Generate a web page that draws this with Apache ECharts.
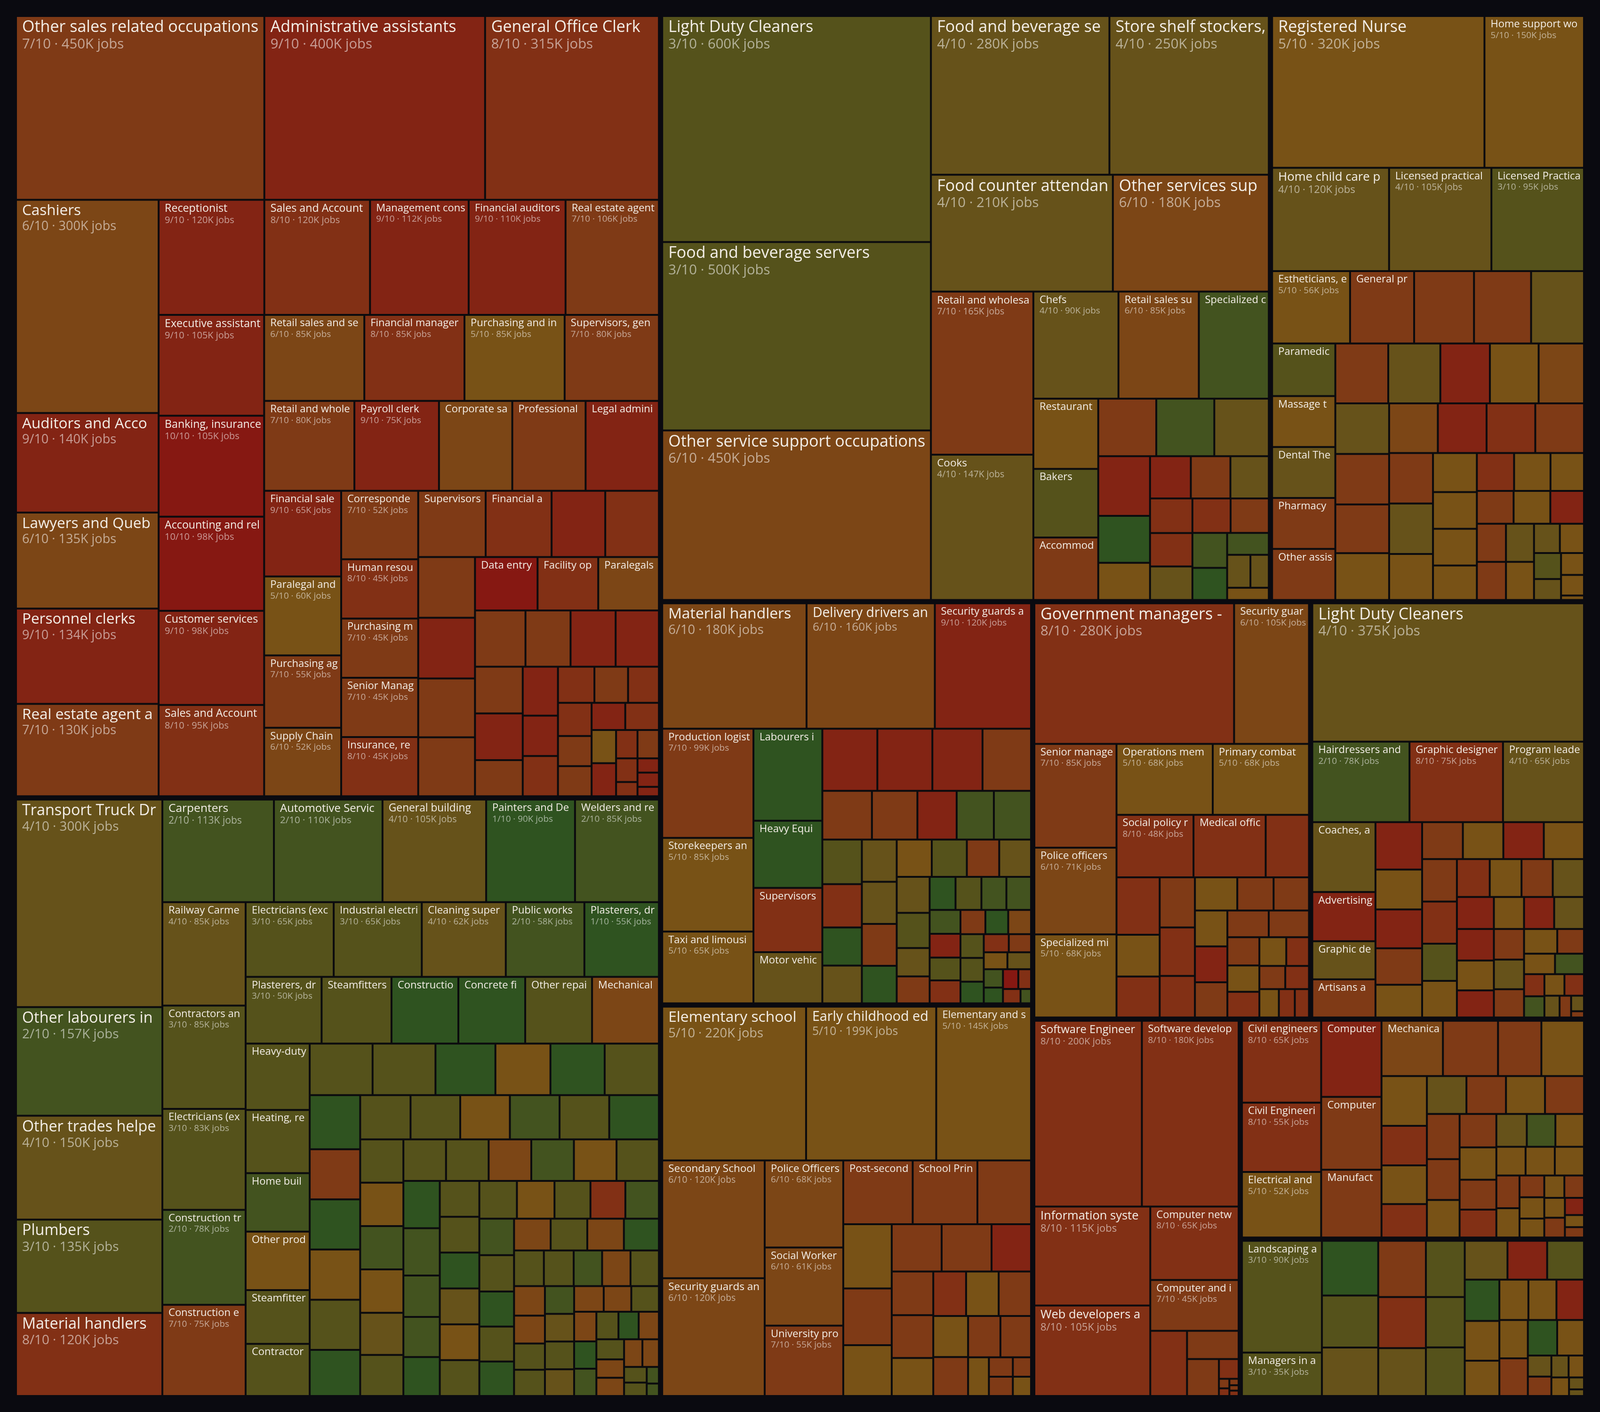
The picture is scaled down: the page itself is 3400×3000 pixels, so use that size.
<!DOCTYPE html>
<html>
<head>
<meta charset="utf-8">
<title>Occupations treemap</title>
<script src="https://cdn.jsdelivr.net/npm/echarts@6/dist/echarts.min.js"></script>
<style>
  html, body { margin: 0; padding: 0; background: #0a0a10; }
  #chart { width: 3400px; height: 3000px; }
</style>
</head>
<body>
<div id="chart"></div>
<script>
// colour per score 1..10 (green -> red)
var scoreColors = ['#2f5320', '#43531f', '#55521b', '#66521a', '#785216',
                   '#7c4616', '#7f3a16', '#823015', '#832414', '#861812'];

// [name, score out of 10, jobs in K] ; '' = cell without a label
// (equal values are listed in reverse of their on-screen order: ECharts puts the later one first)
var business = [
  ['Other sales related occupations', 7, 450], ['Administrative assistants', 9, 400],
  ['General Office Clerk', 8, 315], ['Cashiers', 6, 300],
  ['Auditors and Accountants', 9, 140], ['Lawyers and Quebec notaries', 6, 135],
  ['Personnel clerks', 9, 134], ['Real estate agent and salespersons', 7, 130],
  ['Sales and Account Representatives', 8, 120], ['Receptionist', 9, 120],
  ['Management consultants', 9, 112], ['Financial auditors and accountants', 9, 110],
  ['Real estate agents', 7, 106],
  ['Banking, insurance and other financial clerks', 10, 105], ['Executive assistants', 9, 105],
  ['Customer services representatives', 9, 98], ['Accounting and related clerks', 10, 98],
  ['Sales and Account Managers', 8, 95],
  ['Purchasing and inventory control workers', 5, 85], ['Financial managers', 8, 85],
  ['Retail sales and service supervisors', 6, 85],
  ['Retail and wholesale buyers', 7, 80], ['Supervisors, general office and administrative', 7, 80],
  ['Payroll clerk', 9, 75],
  ['Financial sales representatives', 9, 65], ['Legal administrative assistants', 9, 65],
  ['Professional occupations in advertising', 7, 65], ['Corporate sales managers', 6, 65],
  ['Paralegal and related occupations', 5, 60], ['Purchasing agents and officers', 7, 55],
  ['Correspondence, publication and regulatory clerks', 7, 52], ['Supply Chain logistics', 6, 52],
  ['Insurance, real estate and brokerage managers', 8, 45], ['Senior Managers - financial', 7, 45],
  ['Purchasing managers', 7, 45], ['Human resources professionals', 8, 45],
  ['Supervisors', 7, 44], ['Financial and investment analysts', 8, 43],
  ['', 8, 35], ['', 9, 35], ['', 9, 34], ['', 7, 34], ['Data entry clerks', 10, 33],
  ['', 7, 33], ['', 7, 33], ['Paralegals', 6, 32], ['Facility operation managers', 8, 32],
  ['', 7, 28], ['', 9, 25], ['', 7, 25], ['', 9, 24], ['', 9, 22], ['', 7, 22],
  ['', 9, 17], ['', 7, 17], ['', 8, 14], ['', 9, 14], ['', 8, 13], ['', 7, 12],
  ['', 8, 11], ['', 8, 11], ['', 7, 10], ['', 7, 10], ['', 8, 9], ['', 9, 9],
  ['', 9, 8], ['', 5, 8], ['', 7, 6], ['', 8, 6], ['', 8, 5], ['', 9, 3], ['', 9, 3],
  ['', 8, 3], ['', 9, 2]
];

var service = [
  ['Light Duty Cleaners', 3, 600], ['Food and beverage servers', 3, 500],
  ['Other service support occupations', 6, 450], ['Food and beverage service supervisors', 4, 280],
  ['Store shelf stockers, clerks and order fillers', 4, 250], ['Food counter attendants and kitchen helpers', 4, 210],
  ['Other services supervisors', 6, 180], ['Retail and wholesale trade managers', 7, 165],
  ['Cooks', 4, 147], ['Chefs', 4, 90], ['Retail sales supervisors', 6, 85],
  ['Specialized cleaners', 2, 74], ['Restaurant and food service managers', 5, 45],
  ['Bakers', 3, 44], ['Accommodation service managers', 7, 40],
  ['', 2, 33], ['', 7, 33], ['', 4, 31], ['', 9, 30.5], ['', 1, 24], ['', 5, 19],
  ['', 9, 17], ['', 7, 16.5], ['', 4, 16], ['', 8, 14.5], ['', 4, 14], ['', 8, 14],
  ['', 7, 13], ['', 8, 13], ['', 2, 12], ['', 1, 11], ['', 2, 9], ['', 4, 7.6],
  ['', 4, 6], ['', 5, 5]
];

var health = [
  ['Registered Nurse', 5, 320], ['Home support workers', 5, 150],
  ['Home child care providers', 4, 120], ['Licensed practical nurses', 4, 105],
  ['Licensed Practical Nurse assistants', 3, 95], ['Estheticians, electrologists and related', 5, 56],
  ['General practitioners and family physicians', 7, 46],
  ['', 7, 43], ['', 7, 41], ['', 4, 38],
  ['Paramedical occupations', 3, 33],
  ['Other assisting occupations in health', 7, 32], ['Pharmacy technical assistants', 7, 32],
  ['Dental Therapists', 4, 32], ['Massage therapists', 5, 32],
  ['', 4, 31], ['', 7, 31.5], ['', 9, 29.5], ['', 5, 29], ['', 7, 27], ['', 4, 27], ['', 6, 27],
  ['', 7, 26], ['', 5, 25], ['', 7, 24], ['', 8, 24], ['', 9, 24], ['', 6, 24],
  ['', 4, 22], ['', 7, 22], ['', 5, 20], ['', 5, 17], ['', 5, 16], ['', 5, 16], ['', 5, 15],
  ['', 8, 14], ['', 5, 13.7], ['', 5, 12.6], ['', 5, 12], ['', 7, 12], ['', 7, 11],
  ['', 7, 11], ['', 9, 11], ['', 5, 10.6], ['', 4, 10.6], ['', 4, 7.5], ['', 3, 7],
  ['', 5, 7], ['', 4, 5.6], ['', 5, 5], ['', 5, 4.7], ['', 5, 1]
];

var trades = [
  ['Transport Truck Drivers', 4, 300], ['Other labourers in processing and manufacturing', 2, 157],
  ['Other trades helpers and labourers', 4, 150], ['Plumbers', 3, 135],
  ['Material handlers', 8, 120], ['Carpenters', 2, 113],
  ['Automotive Service Technicians', 2, 110], ['General building maintenance workers', 4, 105],
  ['Painters and Decorators', 1, 90],
  ['Contractors and supervisors, electrical trades', 3, 85], ['Railway Carmen/women', 4, 85],
  ['Welders and related machine operators', 2, 85],
  ['Electricians (except industrial and power system)', 3, 83], ['Construction trades helpers', 2, 78],
  ['Construction estimators', 7, 75],
  ['Industrial electricians', 3, 65], ['Electricians (except industrial)', 3, 65],
  ['Cleaning supervisors', 4, 62],
  ['Public works and maintenance labourers', 2, 58], ['Plasterers, drywall installers and finishers', 1, 55],
  ['Plasterers, drywall installers and lathers', 3, 50], ['Steamfitters, pipefitters', 3, 46],
  ['Mechanical engineering technicians', 6, 44], ['Other repairers and servicers', 3, 44],
  ['Concrete finishers', 1, 44], ['Construction millwrights', 1, 44],
  ['Heavy-duty equipment mechanics', 3, 42], ['Heating, refrigeration and air conditioning mechanics', 3, 40],
  ['Other products assemblers', 5, 37], ['Home building and renovation managers', 2, 37],
  ['Steamfitters and sprinkler installers', 3, 34], ['Contractors and supervisors, mechanic trades', 3, 33],
  ['', 3, 32], ['', 3, 32], ['', 1, 30.5], ['', 5, 28], ['', 3, 27.6], ['', 1, 27.6], ['', 1, 27],
  ['', 3, 25], ['', 5, 25], ['', 1, 25], ['', 7, 25], ['', 1, 23], ['', 3, 22],
  ['', 1, 21.7], ['', 3, 21.7], ['', 2, 21.7], ['', 5, 21.7], ['', 3, 21.7], ['', 4, 18],
  ['', 5, 18.5], ['', 2, 18.5], ['', 5, 18.5], ['', 3, 18.5], ['', 3, 17.4], ['', 2, 17],
  ['', 5, 17.5], ['', 2, 17.5], ['', 6, 17.5], ['', 3, 17.5], ['', 3, 17.5], ['', 3, 17.5],
  ['', 1, 17], ['', 5, 14], ['', 3, 14], ['', 3, 14], ['', 5, 14], ['', 4, 14], ['', 1, 14],
  ['', 3, 14], ['', 3, 12.5], ['', 3, 12], ['', 1, 12], ['', 1, 11], ['', 3, 10.5], ['', 3, 10.5],
  ['', 2, 14.9], ['', 2, 14.4], ['', 3, 14], ['', 1, 14],
  ['', 3, 13.4], ['', 8, 13], ['', 2, 12.5], ['', 2, 12.5],
  ['', 6, 11.5], ['', 1, 11.8], ['', 3, 11.5], ['', 6, 11.5],
  ['', 3, 10], ['', 3, 8], ['', 4, 8], ['', 6, 8.5], ['', 2, 8],
  ['', 6, 9], ['', 3, 8], ['', 4, 7.7], ['', 3, 7], ['', 6, 6.5],
  ['', 6, 10], ['', 3, 6], ['', 6, 7.5], ['', 2, 6], ['', 3, 5.5], ['', 6, 5.5],
  ['', 2, 10], ['', 1, 6], ['', 6, 7], ['', 1, 5.5], ['', 6, 5], ['', 6, 5],
  ['', 3, 8], ['', 6, 4.5], ['', 6, 5], ['', 3, 3], ['', 3, 3.5], ['', 2, 2], ['', 2, 1.5]
];

var manufacturing = [
  ['Material handlers', 6, 180], ['Delivery drivers and courier service drivers', 6, 160],
  ['Security guards and related security service occupations', 9, 120], ['Production logistics workers', 7, 99],
  ['Storekeepers and partspersons', 5, 85], ['Taxi and limousine drivers and chauffeurs', 5, 65],
  ['Labourers in food and beverage processing', 1, 63], ['Heavy Equipment operators', 1, 46],
  ['Supervisors', 8, 44], ['Motor vehicle assemblers', 4, 35],
  ['', 9, 34], ['', 9, 34], ['', 9, 31], ['', 7, 30], ['', 7, 24], ['', 7, 22], ['', 9, 19],
  ['', 3, 17.5], ['', 8, 17], ['', 2, 18], ['', 2, 18], ['', 1, 15], ['', 7, 14.5],
  ['', 4, 14.8], ['', 4, 14.6], ['', 4, 14.6], ['', 3, 13], ['', 5, 13], ['', 1, 13],
  ['', 3, 11.5], ['', 4, 11.8], ['', 7, 12], ['', 4, 11.8], ['', 4, 9.3], ['', 7, 8.8],
  ['', 3, 8.5], ['', 2, 8.1], ['', 2, 8.2], ['', 1, 8.5], ['', 9, 7.3], ['', 8, 7],
  ['', 3, 7], ['', 2, 7.3], ['', 7, 6], ['', 3, 5.5], ['', 3, 5.5], ['', 6, 5.5], ['', 1, 5.5],
  ['', 1, 5], ['', 8, 4.5], ['', 4, 4], ['', 5, 4], ['', 7, 4], ['', 2, 3.5], ['', 10, 3],
  ['', 1, 3], ['', 8, 2.5], ['', 8, 2.5], ['', 2, 1.5]
];

var government = [
  ['Government managers - economic analysis, policy development', 8, 280],
  ['Security guards and related occupations', 6, 105], ['Senior managers - public administration', 7, 85],
  ['Police officers (except commissioned)', 6, 71],
  ['Primary combat members of the Canadian Forces', 5, 68], ['Operations members of the Canadian Forces', 5, 68],
  ['Specialized middle management occupations', 5, 68],
  ['Social policy researchers and consultants', 8, 48], ['Medical officers', 8, 45],
  ['', 8, 27], ['', 8, 24.7], ['', 5, 18], ['', 8, 17], ['', 7, 17.6], ['', 8, 17.6],
  ['', 8, 14.6], ['', 5, 14], ['', 7, 12], ['', 7, 11], ['', 9, 11.6], ['', 7, 11.7],
  ['', 7, 10.7], ['', 7, 11.4], ['', 5, 11.6], ['', 7, 9], ['', 5, 8.4], ['', 8, 8.2],
  ['', 5, 7.7], ['', 8, 6.5], ['', 7, 6], ['', 5, 5.5], ['', 8, 5.5], ['', 8, 4], ['', 8, 4.5]
];

var personal = [
  ['Light Duty Cleaners', 4, 375], ['Hairdressers and barbers', 2, 78],
  ['Graphic designers and illustrators', 8, 75], ['Program leaders and instructors in recreation', 4, 65],
  ['Coaches, athletes and officials', 4, 44], ['Advertising, marketing and public relations', 9, 31],
  ['Artisans and craftspersons', 7, 24], ['Graphic designers', 4, 24],
  ['', 9, 22], ['', 5, 18.6], ['', 9, 18], ['', 7, 17], ['', 7, 15], ['', 5, 15.2],
  ['', 9, 14.9], ['', 5, 14.9], ['', 7, 14.7], ['', 5, 14.8], ['', 8, 14.6], ['', 5, 12.7],
  ['', 3, 12.9], ['', 8, 12.4], ['', 9, 11.8], ['', 4, 11.8], ['', 9, 11.6], ['', 5, 12],
  ['', 9, 9.6], ['', 5, 9.6], ['', 7, 8.5], ['', 5, 11], ['', 4, 9.5], ['', 7, 9.2],
  ['', 4, 8.9], ['', 7, 11.8], ['', 9, 10], ['', 5, 8.2], ['', 7, 6.6], ['', 5, 6.3],
  ['', 2, 5.9], ['', 5, 4.3], ['', 8, 4.5], ['', 8, 4.2], ['', 2, 4.3], ['', 4, 3.3],
  ['', 7, 2.5], ['', 4, 2], ['', 7, 0.8]
];

var education = [
  ['Elementary school and kindergarten teachers', 5, 220], ['Early childhood educators and assistants', 5, 199],
  ['Elementary and secondary school teacher assistants', 5, 145],
  ['Security guards and related occupations', 6, 120], ['Secondary School teachers', 6, 120],
  ['Police Officers', 6, 68],
  ['Social Workers', 6, 61], ['University professors and lecturers', 7, 55],
  ['Post-secondary teaching and research assistants', 7, 44], ['School Principals and administrators', 7, 41],
  ['', 7, 34], ['', 5, 31], ['', 7, 27.3], ['', 7, 23.5], ['', 5, 24.5], ['', 7, 23.5],
  ['', 9, 18.6], ['', 7, 18], ['', 5, 14.4], ['', 5, 14.2], ['', 7, 14.3], ['', 7, 17.7],
  ['', 5, 15.7], ['', 7, 13.5], ['', 7, 13.3], ['', 8, 14.5], ['', 7, 12.6], ['', 5, 8],
  ['', 7, 4.6], ['', 7, 4.6], ['', 5, 3.5], ['', 7, 3.5]
];

var software = [
  ['Software Engineers and designers', 8, 200], ['Software developers and programmers', 8, 180],
  ['Information systems specialists', 8, 115], ['Web developers and programmers', 8, 105],
  ['Computer network technicians', 8, 65], ['Computer and information systems managers', 7, 45],
  ['', 8, 24], ['', 7, 14.6], ['', 7, 11.8], ['', 8, 3.9], ['', 7, 1], ['', 8, 0.8],
  ['', 7, 0.6], ['', 8, 0.5], ['', 7, 0.5]
];

var engineering = [
  ['Civil engineers', 8, 65], ['Civil Engineering technologists and technicians', 8, 55],
  ['Electrical and electronics engineers', 5, 52], ['Computer engineers (except software)', 9, 46],
  ['Computer and network operators', 7, 44], ['Manufacturing managers', 7, 41],
  ['Mechanical engineers', 6, 34],
  ['', 7, 30.5], ['', 7, 24], ['', 5, 23.6], ['', 5, 22.6], ['', 8, 18], ['', 5, 17.6],
  ['', 8, 15.2], ['', 7, 15], ['', 7, 14.8], ['', 7, 14.8], ['', 5, 14.8], ['', 4, 15],
  ['', 7, 13.4], ['', 7, 12.3], ['', 5, 12.3], ['', 8, 10.3], ['', 5, 9.4], ['', 2, 9.4],
  ['', 5, 11.9], ['', 7, 11], ['', 4, 10], ['', 5, 8.4], ['', 5, 8.4], ['', 5, 8.4],
  ['', 7, 7.6], ['', 5, 6.8], ['', 7, 5.4], ['', 5, 5.3], ['', 5, 4.7], ['', 5, 4.5],
  ['', 7, 4.4], ['', 7, 4.1], ['', 5, 4.1], ['', 9, 3.3], ['', 5, 2.3], ['', 7, 2]
];

var landscaping = [
  ['Landscaping and grounds maintenance labourers', 3, 90], ['Managers in agriculture', 3, 35],
  ['', 1, 31], ['', 3, 29.5], ['', 4, 27.5], ['', 7, 27], ['', 8, 24.5], ['', 4, 23],
  ['', 3, 22], ['', 3, 19.7], ['', 3, 19], ['', 4, 16.7], ['', 9, 15.5], ['', 1, 14.4],
  ['', 3, 14.4], ['', 5, 13.9], ['', 5, 12.3], ['', 5, 11.8], ['', 7, 10.8], ['', 1, 10.5],
  ['', 9, 11.2], ['', 5, 9.6], ['', 5, 11.4], ['', 5, 11], ['', 4, 5], ['', 7, 4.6],
  ['', 4, 3.8], ['', 5, 3.4], ['', 5, 3.3], ['', 4, 1.8], ['', 4, 1]
];

var groups = [
  ['Business, finance and administration', business],
  ['Sales and service', service],
  ['Health', health],
  ['Trades, transport and equipment operators', trades],
  ['Manufacturing and transportation', manufacturing],
  ['Government and protective services', government],
  ['Personal services, art and recreation', personal],
  ['Education and community services', education],
  ['Computer and information systems', software],
  ['Engineering and applied sciences', engineering],
  ['Natural resources and agriculture', landscaping]
];

var FONT = "'Open Sans', 'Noto Sans', sans-serif";
var BG = '#0a0a10';

function hiddenLabel() { return { show: false }; }

function sizedLabel(name, score, jobs, box) {
  if (!name || !box) return { show: false };
  var w = box.width, h = box.height;
  if (w < 100 || h < 40) return { show: false };
  var t = Math.max(22, Math.min(34, w / 9.5));
  var d = t * 0.86;
  var details = w >= 154 && h >= 80;
  return {
    show: true,
    position: 'insideTopLeft',
    distance: 0,
    padding: [4, 3, 0, 11],
    overflow: 'truncate',
    ellipsis: '',
    formatter: details ? '{t|' + name + '}\n{d|' + score + '/10 · ' + jobs + 'K jobs}' : '{t|' + name + '}',
    rich: {
      t: { fontFamily: FONT, fontSize: t, lineHeight: Math.round(t * 1.1), color: '#f3eee7' },
      d: { fontFamily: FONT, fontSize: d, lineHeight: Math.round(d * 1.2), color: 'rgba(255,255,255,0.55)' }
    }
  };
}

function buildData(boxes) {
  return groups.map(function (g, gi) {
    return {
      name: g[0],
      children: g[1].map(function (row, i) {
        var id = 'n' + gi + '_' + i;
        return {
          id: id,
          name: row[0],
          value: row[2],
          itemStyle: { color: scoreColors[row[1] - 1] },
          label: boxes ? sizedLabel(row[0], row[1], row[2], boxes[id]) : hiddenLabel()
        };
      })
    };
  });
}

function makeOption(data) {
  return {
    backgroundColor: BG,
    animation: false,
    series: [{
      type: 'treemap',
      left: 36, top: 36, width: 3328, height: 2928,
      roam: false,
      nodeClick: false,
      breadcrumb: { show: false },
      visibleMin: 0,
      childrenVisibleMin: 0,
      sort: 'desc',
      squareRatio: 1,
      label: { show: true, position: 'insideTopLeft', fontFamily: FONT },
      upperLabel: { show: false },
      levels: [
        { itemStyle: { borderWidth: 0, gapWidth: 11, borderColor: BG } },
        { itemStyle: { borderWidth: 0, gapWidth: 4, borderColor: '#0b0b0e' } },
        { itemStyle: { borderWidth: 0, gapWidth: 0, borderColor: '#0b0b0e' } }
      ],
      data: data
    }]
  };
}

var chart = echarts.init(document.getElementById('chart'));
chart.setOption(makeOption(buildData(null)));

// second pass: read the treemap's own layout to size each label
var boxes = {};
try {
  var tree = chart.getModel().getSeriesByIndex(0).getData().tree;
  tree.eachNode(function (node) {
    if (node.children && node.children.length) return;
    var lay = node.getLayout();
    if (lay) boxes[node.getId()] = { width: lay.width, height: lay.height };
  });
} catch (e) {
  console.log('layout read failed', e);
}
chart.setOption(makeOption(buildData(boxes)), true);
</script>
</body>
</html>
